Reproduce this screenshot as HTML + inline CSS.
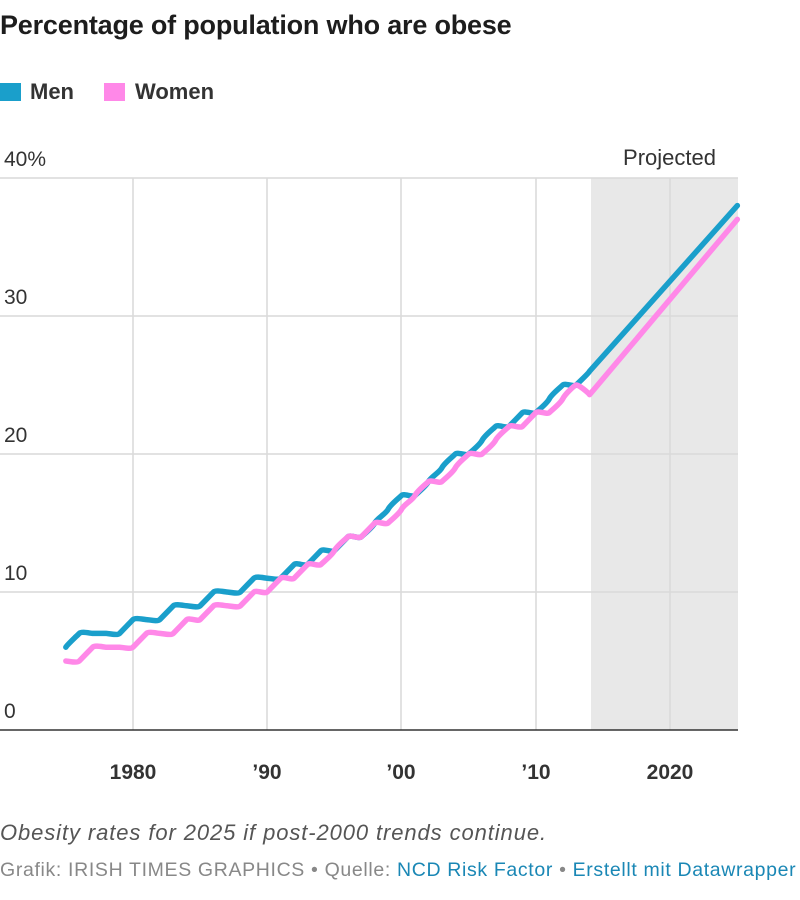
<!DOCTYPE html>
<html><head><meta charset="utf-8"><style>
body{margin:0;background:#fff;font-family:"Liberation Sans",sans-serif;width:800px;height:900px;overflow:hidden;position:relative}
.t{position:absolute;white-space:nowrap}
</style></head><body>
<div class="t" style="left:0;top:10px;font-size:27px;font-weight:bold;color:#1d1d1d;letter-spacing:-0.2px">Percentage of population who are obese</div>
<div class="t" style="left:0;top:79px;font-size:22px;font-weight:bold;color:#333"><span style="display:inline-block;width:21px;height:18px;background:#1a9fcb;vertical-align:-2px;margin-right:9px"></span>Men<span style="display:inline-block;width:21px;height:18px;background:#ff88e8;vertical-align:-2px;margin:0 10px 0 30px"></span>Women</div>
<svg id="s" width="800" height="800" style="position:absolute;left:0;top:0" font-family="Liberation Sans, sans-serif">
<rect x="591" y="178" width="147" height="552" fill="#e8e8e8"/>
<g stroke="#d9d9d9" stroke-width="1.5">
<line x1="0" y1="178" x2="738" y2="178"/><line x1="0" y1="316" x2="738" y2="316"/><line x1="0" y1="454" x2="738" y2="454"/><line x1="0" y1="592" x2="738" y2="592"/>
<line x1="133" y1="178" x2="133" y2="730"/><line x1="267" y1="178" x2="267" y2="730"/><line x1="401" y1="178" x2="401" y2="730"/><line x1="536" y1="178" x2="536" y2="730"/><line x1="670" y1="178" x2="670" y2="730"/>
</g>
<line x1="0" y1="730" x2="738" y2="730" stroke="#333" stroke-width="1.5"/>
<g font-size="21" fill="#333">
<text x="4" y="166">40%</text><text x="4" y="304">30</text><text x="4" y="442">20</text><text x="4" y="580">10</text><text x="4" y="718">0</text>
<text x="716" y="165" text-anchor="end" font-size="22">Projected</text>
</g>
<g font-size="21" fill="#333" font-weight="bold" text-anchor="middle">
<text x="133" y="779">1980</text><text x="267" y="779">’90</text><text x="401" y="779">’00</text><text x="536" y="779">’10</text><text x="670" y="779">2020</text>
</g>
<path id="m" fill="none" stroke="#1a9fcb" stroke-width="5.5" stroke-linejoin="round" stroke-linecap="round"/>
<path id="w" fill="none" stroke="#ff88e8" stroke-width="5.5" stroke-linejoin="round" stroke-linecap="round"/>
</svg>
<div class="t" style="left:0;top:820px;font-size:22px;font-style:italic;color:#555;letter-spacing:0.9px">Obesity rates for 2025 if post-2000 trends continue.</div>
<div class="t" style="left:0;top:859px;font-size:19.5px;color:#888;letter-spacing:0.65px">Grafik: IRISH TIMES GRAPHICS • Quelle: <span style="color:#1a87b5">NCD Risk Factor</span> • <span style="color:#1a87b5">Erstellt mit Datawrapper</span></div>
<script>
function X(y){return 133+(y-1980)*13.43}
function Y(v){return 730-v*13.8}
var men=[6,7,7,7,7,8,8,8,9,9,9,10,10,10,11,11,11,12,12,13,13,14,14,15,16,17,17,18,19,20,20,21,22,22,23,23,24,25,25,26];
var wom=[5,5,6,6,6,6,7,7,7,8,8,9,9,9,10,10,11,11,12,12,13,14,14,15,15,16,17,18,18,19,20,20,21,22,22,23,23,24,25,24.3];
function path(d,endv){
 var n=d.length,pts=[];
 for(var i=0;i<n;i++)pts.push([X(1975+i),Y(d[i])]);
 var p="M"+pts[0][0]+","+pts[0][1];
 for(var i=1;i<n;i++){
  var a=pts[Math.max(i-2,0)],b=pts[i-1],c=pts[i],e=pts[Math.min(i+1,n-1)];
  var c1x=b[0]+(c[0]-a[0])/12, c1y=b[1]+(c[1]-a[1])/6;
  var c2x=c[0]-(e[0]-b[0])/12, c2y=c[1]-(e[1]-b[1])/6;
  p+=" C"+c1x+","+c1y+" "+c2x+","+c2y+" "+c[0]+","+c[1];
 }
 p+=" L"+X(2025)+","+Y(endv);
 return p;
}
document.getElementById("m").setAttribute("d",path(men,38));
document.getElementById("w").setAttribute("d",path(wom,37));
</script>
</body></html>
